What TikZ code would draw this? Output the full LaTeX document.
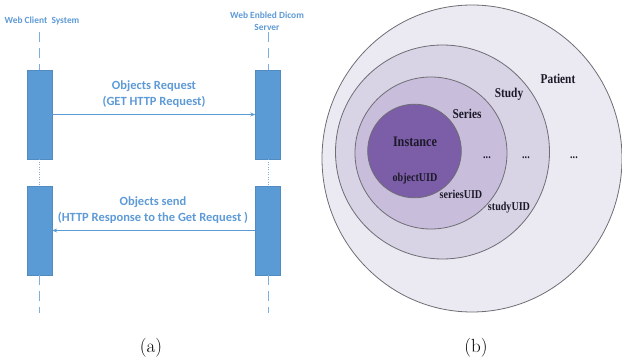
\documentclass[tikz,border=0pt]{standalone}
\usepackage{fontspec}
\usetikzlibrary{arrows.meta}
\newfontfamily\seqfont{Carlito}
\newfontfamily\uidfont[FakeStretch=0.84]{Liberation Serif}
\definecolor{seqblue}{HTML}{5B9BD5}
\definecolor{seqtext}{HTML}{5E9AD6}
\definecolor{ringA}{HTML}{EBE9F1}
\definecolor{ringB}{HTML}{D9D3E6}
\definecolor{ringC}{HTML}{C8BEDB}
\definecolor{ringD}{HTML}{7C5DA8}
\definecolor{ringline}{HTML}{6E6E74}
\definecolor{uidtext}{HTML}{1C1A28}
\begin{document}
\begin{tikzpicture}[x=1pt,y=-1pt,
  actbox/.style={draw=seqblue!90!black,line width=0.4pt,fill=seqblue,minimum width=25pt,minimum height=89pt,inner sep=0pt},
  lifedash/.style={draw=seqblue!80,line width=0.9pt,dash pattern=on 10pt off 6pt},
  lifedot/.style={draw=seqblue!80,line width=0.9pt,dash pattern=on 1pt off 1.5pt},
  msg/.style={draw=seqblue,line width=0.9pt,-{Stealth[length=5pt,width=4pt]}},
  hdr/.style={font=\seqfont\bfseries\fontsize{9.4}{12}\selectfont,text=seqtext,align=center,inner sep=0pt},
  msgtxt/.style={font=\seqfont\bfseries\fontsize{12.5}{16}\selectfont,text=seqtext,align=center,inner sep=0pt},
  ring/.style={draw=ringline,line width=0.8pt},
  uid/.style={font=\uidfont\bfseries\fontsize{13.5}{15}\selectfont,text=uidtext,inner sep=0pt},
  uidbig/.style={font=\uidfont\bfseries\fontsize{14.5}{16}\selectfont,text=uidtext,inner sep=0pt},
  uidsm/.style={font=\uidfont\bfseries\fontsize{12}{14}\selectfont,text=uidtext,inner sep=0pt},
  figcap/.style={font=\fontsize{19}{21}\selectfont,inner sep=0pt}]
\useasboundingbox (0,0) rectangle (622,363);

% ---------- sequence diagram ----------
\node[hdr] (client) at (42,21) {Web Client\ \ System};
\node[hdr] (server) at (267,21) {Web Enbled Dicom\\Server};

\node[actbox] (L1) at (39.5,114.5) {};
\node[actbox] (L2) at (39.5,230.5) {};
\node[actbox] (R1) at (268,114.5) {};
\node[actbox] (R2) at (268,230.5) {};

\coordinate (Ltop) at (39.5,32);
\coordinate (Rtop) at (268,32);
\coordinate (Lbot) at (39.5,313);
\coordinate (Rbot) at (268,313);

\draw[lifedash] (Ltop) -- (L1.north);
\draw[lifedash] (Rtop) -- (R1.north);
\draw[lifedot] (L1.south) -- (L2.north);
\draw[lifedot] (R1.south) -- (R2.north);
\draw[lifedash] (L2.south) -- (Lbot);
\draw[lifedash] (R2.south) -- (Rbot);

\draw[msg] (L1.east) -- (R1.west);
\draw[msg] (R2.west) -- (L2.east);

\node[msgtxt] (req) at (154,94) {Objects Request\\(GET HTTP Request)};
\node[msgtxt] (resp) at (153,210) {Objects send\\(HTTP Response to the Get Request )};

\node[figcap] (capa) at (151,348) {(a)};

% ---------- nested DICOM hierarchy ----------
\path[ring,fill=ringA] (472,158.5) ellipse [x radius=150,y radius=153.5];
\path[ring,fill=ringB] (442.5,152) circle [radius=107];
\path[ring,fill=ringC] (431,153) circle [radius=76];
\path[ring,fill=ringD] (414.5,151) circle [radius=46.8];

\node[uid] (patient) at (558,79) {Patient};
\node[uid] (study) at (509,94) {Study};
\node[uid] (series) at (467,114) {Series};
\node[uidbig] (instance) at (415,142) {Instance};
\node[uidsm] (objuid) at (415,179) {objectUID};
\node[uidsm] (seruid) at (461,194) {seriesUID};
\node[uidsm] (stuuid) at (509,208) {studyUID};
\node[uidsm] (d1) at (487,158) {...};
\node[uidsm] (d2) at (526,158) {...};
\node[uidsm] (d3) at (574,158) {...};

\node[figcap] (capb) at (476,348) {(b)};
\end{tikzpicture}
\end{document}
